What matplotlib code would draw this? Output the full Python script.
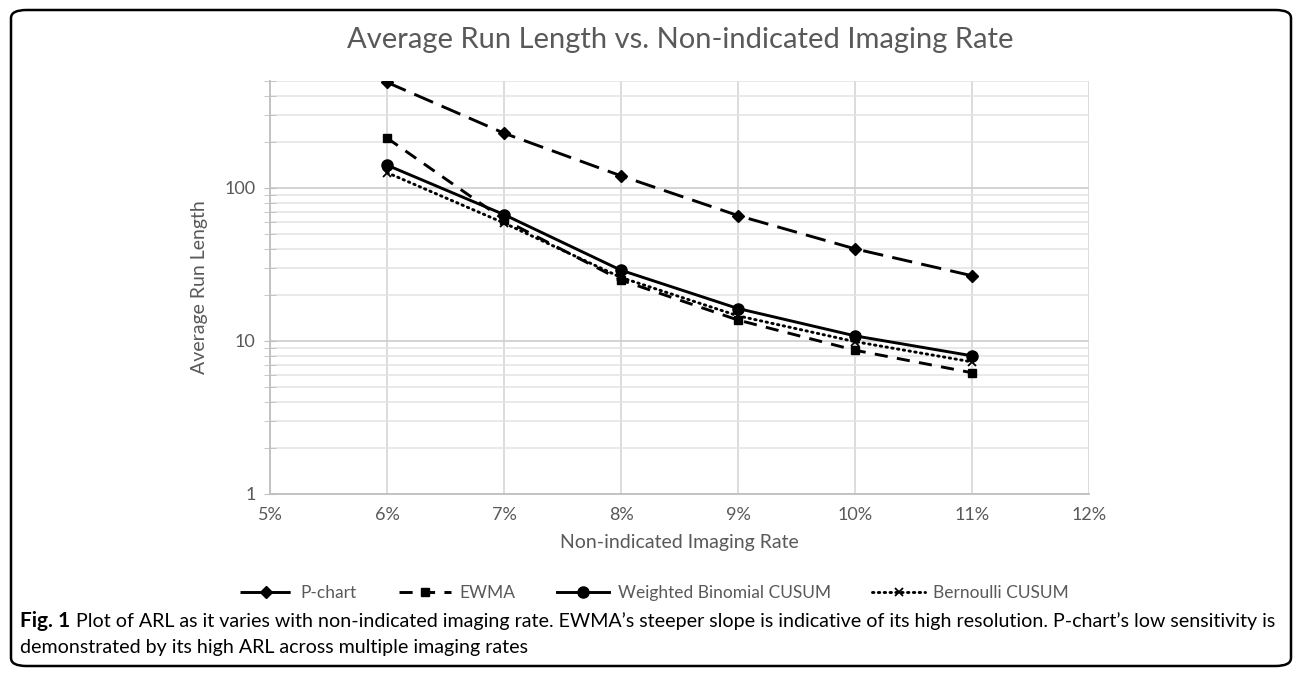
import matplotlib.pyplot as plt
from matplotlib.patches import FancyBboxPatch
from matplotlib.ticker import FixedLocator, FuncFormatter, NullFormatter

plt.rcParams['font.family'] = ['Lato', 'DejaVu Sans']

# Non-indicated imaging rate (%)
rates = [6, 7, 8, 9, 10, 11]

# Average run length
p_chart = [490, 228, 120, 66, 40, 26.7]
ewma = [212, 62, 25, 13.7, 8.7, 6.2]
wb_cusum = [141, 67, 29, 16.3, 10.8, 8.0]
bern_cusum = [126, 59, 26, 14.6, 9.9, 7.3]

x_ticks = [5, 6, 7, 8, 9, 10, 11, 12]
y_major = [1, 10, 100]

grey = '#595959'
grid = '#D9D9D9'

fig = plt.figure(figsize=(12.96, 6.74), dpi=100)
ax = fig.add_axes([270 / 1296, 1 - 494 / 674, 819 / 1296, 413 / 674])

ax.plot(rates, p_chart, color='black', lw=2.1, dashes=(7, 3.2),
        marker='D', ms=6, label='P-chart')
ax.plot(rates, ewma, color='black', lw=2.1, dashes=(4.5, 3.2),
        marker='s', ms=6, label='EWMA')
ax.plot(rates, wb_cusum, color='black', lw=2.1,
        marker='o', ms=8, label='Weighted Binomial CUSUM')
ax.plot(rates, bern_cusum, color='black', lw=2.1, linestyle=(0, (0.5, 1.5)),
        dash_capstyle='round', marker='x', ms=6, mew=1.3, label='Bernoulli CUSUM')

ax.set_yscale('log')
ax.set_ylim(1, 500)
ax.set_xlim(5, 12)
ax.set_xticks(x_ticks)
ax.xaxis.set_major_formatter(FuncFormatter(lambda v, p: f'{int(round(v))}%'))
ax.yaxis.set_major_locator(FixedLocator(y_major))
ax.yaxis.set_major_formatter(FuncFormatter(lambda v, p: f'{int(v)}'))
minors = [m * 10 ** e for e in range(0, 3) for m in range(2, 10) if m * 10 ** e <= 500]
ax.yaxis.set_minor_locator(FixedLocator(minors))
ax.yaxis.set_minor_formatter(NullFormatter())

ax.grid(True, which='major', axis='y', color='#D0D0D0', lw=1.3)
ax.grid(True, which='minor', axis='y', color='#E3E3E3', lw=1.1)
ax.grid(True, which='major', axis='x', color=grid, lw=1.3)
ax.set_axisbelow(True)

for s in ['top', 'right']:
    ax.spines[s].set_visible(False)
for s in ['left', 'bottom']:
    ax.spines[s].set_color('#BFBFBF')
    ax.spines[s].set_linewidth(1.3)

ax.tick_params(axis='y', which='both', direction='inout', length=9, color='#BFBFBF',
               labelcolor=grey, labelsize=13, pad=6)
ax.tick_params(axis='x', length=0, labelcolor=grey, labelsize=13, pad=9)

ax.set_xlabel('Non-indicated Imaging Rate', color=grey, fontsize=14, labelpad=8)
ax.set_ylabel('Average Run Length', color=grey, fontsize=14, labelpad=12)
fig.text(0.525, 0.94, 'Average Run Length vs. Non-indicated Imaging Rate',
         ha='center', va='center', color=grey, fontsize=21)

fig.legend(loc='center', bbox_to_anchor=(0.505, 1 - 593 / 674), ncol=4, frameon=False,
           fontsize=12.5, labelcolor=grey, handlelength=3.0, handletextpad=0.5,
           columnspacing=2.4)

# caption: bold label, then the sentence right after it
cap_size = 14.1
fig_lbl = fig.text(20 / 1296, 1 - 621 / 674, 'Fig. 1', fontweight='bold', fontsize=15,
                   va='center')
fig.canvas.draw()
lbl_end = fig_lbl.get_window_extent().x1
fig.text((lbl_end + 6) / 1296, 1 - 621 / 674,
         "Plot of ARL as it varies with non-indicated imaging rate. EWMA\u2019s steeper slope is "
         "indicative of its high resolution. P-chart\u2019s low sensitivity is",
         fontsize=cap_size, va='center')
fig.text(20 / 1296, 1 - 648 / 674, 'demonstrated by its high ARL across multiple imaging rates',
         fontsize=cap_size, va='center')

border = FancyBboxPatch((11 / 1296, 8 / 674), 1280 / 1296, 656 / 674,
                        boxstyle='round,pad=0,rounding_size=0.012',
                        transform=fig.transFigure, fill=False, lw=1.8, ec='black')
fig.patches.append(border)

fig.savefig('out.png', dpi=100)
